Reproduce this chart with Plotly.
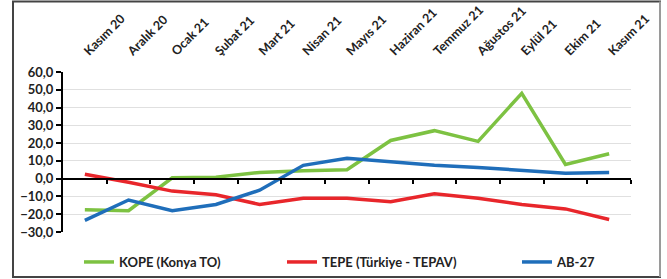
import plotly.graph_objects as go

categories = ["Kasım 20", "Aralık 20", "Ocak 21", "Şubat 21", "Mart 21", "Nisan 21",
              "Mayıs 21", "Haziran 21", "Temmuz 21", "Ağustos 21", "Eylül 21", "Ekim 21", "Kasım 21"]
kope = [-17.5, -18.0, 0.5, 0.8, 3.5, 4.5, 5.0, 21.5, 27.0, 21.0, 48.0, 8.0, 14.0]
tepe = [2.5, -2.0, -7.0, -9.0, -14.5, -11.0, -11.0, -13.0, -8.5, -11.0, -14.5, -17.0, -23.0]
ab27 = [-23.5, -12.0, -18.0, -14.5, -6.5, 7.5, 11.5, 9.5, 7.5, 6.3, 4.5, 3.0, 3.4]
names = ["KOPE (Konya TO)", "TEPE (Türkiye - TEPAV)", "AB-27"]
colors = ["#7DC242", "#E8262B", "#1F6EBA"]
ytickvals = [-30, -20, -10, 0, 10, 20, 30, 40, 50, 60]

W, H = 667, 279
L, R, T, B = 63, 36, 72, 47
pw, ph = W - L - R, H - T - B

def px_x(p):
    return (p - L) / pw

def px_y(p):
    return (H - B - p) / ph

FONT = "Lato"
fig = go.Figure()
legends = ["legend", "legend2", "legend3"]
for vals, name, col, lg in zip([kope, tepe, ab27], names, colors, legends):
    fig.add_trace(go.Scatter(x=categories, y=vals, name=name, mode="lines",
                             line=dict(color=col, width=3.5), legend=lg))
# helper trace for the zero-line axis with boundary ticks
fig.add_trace(go.Scatter(x=[], y=[], xaxis="x2", showlegend=False, hoverinfo="skip"))

leg_common = dict(orientation="h", yanchor="middle", y=px_y(262), xanchor="left",
                  font=dict(family=FONT, size=13, color="#222", weight="bold"),
                  bgcolor="rgba(0,0,0,0)", itemwidth=30, borderwidth=0)
fig.update_layout(
    width=W, height=H,
    margin=dict(l=L, r=R, t=T, b=B, autoexpand=False),
    showlegend=True,
    paper_bgcolor="white", plot_bgcolor="white",
    separators=",.",
    font=dict(family=FONT, size=12, color="#222"),
    xaxis=dict(type="category", side="top", range=[-0.5, 12.5], tickangle=-45,
               showgrid=False, showline=False, zeroline=False,
               ticks="outside", ticklen=8, tickcolor="rgba(0,0,0,0)",
               tickfont=dict(family=FONT, size=12.5, color="#222", weight="bold")),
    xaxis2=dict(overlaying="x", anchor="free", position=1/3, range=[-0.5, 12.5],
                tickmode="array", tickvals=[i + 0.5 for i in range(13)],
                ticks="outside", ticklen=4, tickwidth=1.5, tickcolor="black",
                showline=True, linecolor="black", linewidth=2,
                showticklabels=False, showgrid=False, zeroline=False),
    yaxis=dict(range=[-30, 60], tickmode="array", tickvals=ytickvals, tickformat=".1f",
               showline=True, linecolor="black", linewidth=2,
               ticks="outside", ticklen=5, tickwidth=1.5, tickcolor="black",
               showgrid=True, gridcolor="#E0E0E0", gridwidth=1,
               zeroline=False,
               tickfont=dict(family=FONT, size=13, color="#222", weight="bold")),
    legend=dict(x=px_x(79), **leg_common),
    legend2=dict(x=px_x(282), **leg_common),
    legend3=dict(x=px_x(517), **leg_common),
    shapes=[dict(type="rect", xref="paper", yref="paper",
                 x0=px_x(13), x1=px_x(660), y0=px_y(277), y1=px_y(1.5),
                 line=dict(color="#444", width=2), fillcolor="rgba(0,0,0,0)", layer="below"),
            dict(type="line", xref="paper", yref="paper",
                 x0=px_x(660), x1=px_x(660), y0=px_y(277), y1=px_y(1.5),
                 line=dict(color="#9A9A9A", width=2))],
)
fig.write_html("out.html", config={"displayModeBar": False},
               post_script="document.body.style.margin='0';document.body.style.overflow='hidden';")
